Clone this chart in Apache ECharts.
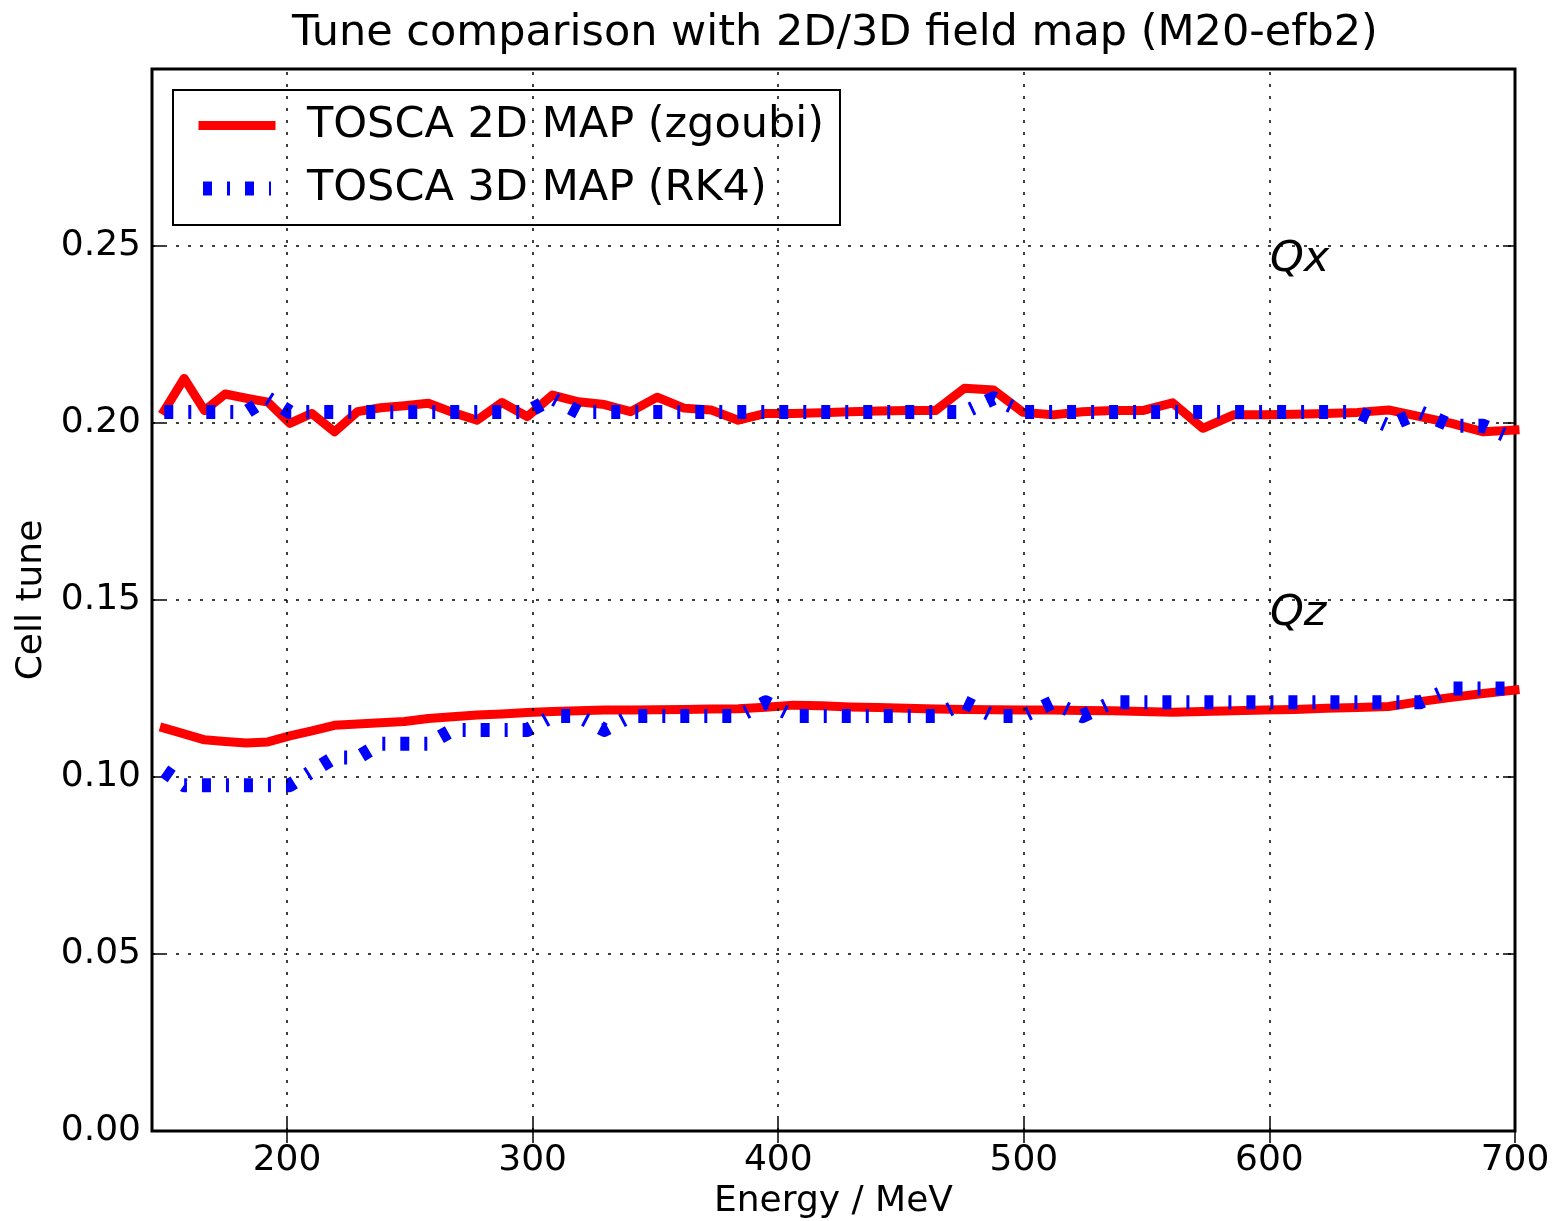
<!DOCTYPE html>
<html lang="en">
<head>
<meta charset="UTF-8">
<title>Tune comparison with 2D/3D field map</title>
<script src="https://cdn.jsdelivr.net/npm/echarts@6/dist/echarts.min.js"></script>
<style>
    html, body { margin: 0; padding: 0; background: #fff; }
    #main { width: 1556px; height: 1221px; }
</style>
</head>
<body>
<div id="main"></div>
<script>
    // kinetic energy of each closed orbit (MeV)
    var energy = [150.0, 158.1, 166.4, 174.8, 183.4, 192.2, 201.1, 210.1, 219.3, 228.7,
        238.1, 247.8, 257.5, 267.4, 277.4, 287.5, 297.8, 308.1, 318.6, 329.2,
        339.9, 350.7, 361.6, 372.6, 383.7, 394.9, 406.2, 417.6, 429.1, 440.7,
        452.3, 464.0, 475.8, 487.7, 499.7, 511.7, 523.8, 536.0, 548.3, 560.6,
        572.9, 585.4, 597.9, 610.5, 623.1, 635.8, 648.5, 661.3, 674.2, 687.1, 700.0];

    // 2D map (zgoubi)
    var qx2d = [0.2035, 0.2126, 0.2035, 0.2082, 0.2070, 0.2059, 0.1999, 0.2027, 0.1975, 0.2032,
        0.2043, 0.2049, 0.2056, 0.2030, 0.2008, 0.2058, 0.2018, 0.2079, 0.2060, 0.2052,
        0.2032, 0.2073, 0.2042, 0.2037, 0.2008, 0.2027, 0.2027, 0.2029, 0.2032, 0.2034,
        0.2035, 0.2035, 0.2098, 0.2093, 0.2030, 0.2023, 0.2032, 0.2035, 0.2035, 0.2057,
        0.1985, 0.2023, 0.2023, 0.2025, 0.2027, 0.2030, 0.2037, 0.2018, 0.1999, 0.1975, 0.1980];
    var qz2d = [0.1138, 0.1122, 0.1105, 0.1100, 0.1096, 0.1099, 0.1116, 0.1130, 0.1146, 0.1150,
        0.1153, 0.1157, 0.1165, 0.1170, 0.1175, 0.1178, 0.1182, 0.1185, 0.1187, 0.1189,
        0.1189, 0.1190, 0.1191, 0.1192, 0.1193, 0.1197, 0.1203, 0.1201, 0.1198, 0.1196,
        0.1194, 0.1192, 0.1191, 0.1190, 0.1189, 0.1189, 0.1188, 0.1187, 0.1185, 0.1183,
        0.1185, 0.1187, 0.1189, 0.1191, 0.1194, 0.1196, 0.1199, 0.1213, 0.1225, 0.1236, 0.1246];

    // 3D map (RK4), tunes come out in steps of 1/256
    var qx3d = [0.2031, 0.2031, 0.2031, 0.2031, 0.2031, 0.2070, 0.2031, 0.2031, 0.2031, 0.2031,
        0.2031, 0.2031, 0.2031, 0.2031, 0.2031, 0.2031, 0.2031, 0.2070, 0.2031, 0.2031,
        0.2031, 0.2031, 0.2031, 0.2031, 0.2031, 0.2031, 0.2031, 0.2031, 0.2031, 0.2031,
        0.2031, 0.2031, 0.2031, 0.2070, 0.2031, 0.2031, 0.2031, 0.2031, 0.2031, 0.2031,
        0.2031, 0.2031, 0.2031, 0.2031, 0.2031, 0.2031, 0.1992, 0.2031, 0.1992, 0.1992, 0.1953];
    var qz3d = [0.1016, 0.0977, 0.0977, 0.0977, 0.0977, 0.0977, 0.0977, 0.1016, 0.1055, 0.1055,
        0.1094, 0.1094, 0.1094, 0.1133, 0.1133, 0.1133, 0.1133, 0.1172, 0.1172, 0.1133,
        0.1172, 0.1172, 0.1172, 0.1172, 0.1172, 0.1211, 0.1172, 0.1172, 0.1172, 0.1172,
        0.1172, 0.1172, 0.1211, 0.1172, 0.1172, 0.1211, 0.1172, 0.1211, 0.1211, 0.1211,
        0.1211, 0.1211, 0.1211, 0.1211, 0.1211, 0.1211, 0.1211, 0.1211, 0.1250, 0.1250, 0.1250];

    var xTicks = [200, 300, 400, 500, 600, 700];
    var xGrid = [200, 300, 400, 500, 600];
    var labels = [
        {name: 'Qx', coord: [600, 0.246]},
        {name: 'Qz', coord: [600, 0.146]}
    ];

    var font = 'DejaVu Sans';
    var dotted = [3, 9];
    var dashDot = [9, 15, 3, 15];

    function pairs(xs, ys) {
        return xs.map(function (x, i) { return [x, ys[i]]; });
    }

    var chart = echarts.init(document.getElementById('main'));

    var red = {
        type: 'line',
        name: 'TOSCA 2D MAP (zgoubi)',
        symbol: 'none',
        z: 2,
        itemStyle: {color: '#ff0000'},
        lineStyle: {color: '#ff0000', width: 9, cap: 'square', join: 'round'}
    };
    var blue = {
        type: 'line',
        name: 'TOSCA 3D MAP (RK4)',
        symbol: 'none',
        z: 3,
        itemStyle: {color: '#0000ff'},
        lineStyle: {color: '#0000ff', width: 14, type: dashDot, cap: 'butt', join: 'round'}
    };

    var option = {
        animation: false,
        title: {
            text: 'Tune comparison with 2D/3D field map (M20-efb2)',
            left: 292,
            top: 12,
            padding: 0,
            textStyle: {fontFamily: font, fontSize: 43, fontWeight: 'normal', color: '#000'}
        },
        grid: {
            left: 152, right: 41, top: 69, bottom: 90,
            outerBoundsMode: 'none',
            show: true, borderColor: '#000', borderWidth: 3
        },
        legend: {
            left: 173, top: 90,
            orient: 'vertical',
            data: [
                {name: 'TOSCA 2D MAP (zgoubi)', lineStyle: {width: 9, color: '#ff0000', type: 'solid'}},
                {name: 'TOSCA 3D MAP (RK4)', lineStyle: {width: 14, color: '#0000ff', type: dashDot}}
            ],
            itemStyle: {color: 'transparent', borderWidth: 0, opacity: 0},
            backgroundColor: '#fff',
            borderColor: '#000', borderWidth: 2, borderRadius: 0,
            padding: [14, 16, 15, 23],
            itemWidth: 68, itemHeight: 16, itemGap: 20,
            textStyle: {fontFamily: font, fontSize: 43, color: '#000', padding: [0, 0, 0, 31]}
        },
        xAxis: [{
            type: 'value', min: 145, max: 700,
            name: 'Energy / MeV', nameLocation: 'middle', nameGap: 51,
            nameTextStyle: {fontFamily: font, fontSize: 36, color: '#000'},
            axisLine: {show: false},
            axisTick: {show: true, inside: true, length: 12, customValues: xTicks,
                lineStyle: {color: '#000', width: 1.5}},
            axisLabel: {customValues: xTicks, fontFamily: font, fontSize: 36, color: '#000', margin: 12},
            splitLine: {show: false}
        }, {
            type: 'value', min: 145, max: 700, position: 'top',
            axisLine: {show: false},
            axisTick: {show: true, inside: true, length: 12, customValues: xTicks,
                lineStyle: {color: '#000', width: 1.5}},
            axisLabel: {show: false},
            splitLine: {show: false}
        }],
        yAxis: [{
            type: 'value', min: 0, max: 0.3, interval: 0.05,
            name: 'Cell tune', nameLocation: 'middle', nameGap: 89,
            nameTextStyle: {fontFamily: font, fontSize: 36, color: '#000'},
            axisLine: {show: false},
            axisTick: {show: true, inside: true, length: 12, lineStyle: {color: '#000', width: 1.5}},
            axisLabel: {
                fontFamily: font, fontSize: 36, color: '#000', margin: 11,
                showMaxLabel: false,
                formatter: function (v) { return v.toFixed(2); }
            },
            splitLine: {show: true, lineStyle: {color: '#000', width: 1.5, type: dotted}}
        }, {
            type: 'value', min: 0, max: 0.3, interval: 0.05, position: 'right',
            axisLine: {show: false},
            axisTick: {show: true, inside: true, length: 12, lineStyle: {color: '#000', width: 1.5}},
            axisLabel: {show: false},
            splitLine: {show: false}
        }],
        series: [
            Object.assign({}, red, {data: pairs(energy, qx2d)}),
            Object.assign({}, red, {data: pairs(energy, qz2d)}),
            Object.assign({}, blue, {data: pairs(energy, qx3d)}),
            Object.assign({}, blue, {
                data: pairs(energy, qz3d),
                markLine: {
                    silent: true,
                    symbol: ['none', 'none'],
                    label: {show: false},
                    lineStyle: {color: '#000', width: 1.5, type: dotted},
                    data: xGrid.map(function (v) { return {xAxis: v}; })
                },
                markPoint: {
                    silent: true,
                    symbol: 'circle', symbolSize: 1,
                    itemStyle: {color: 'transparent'},
                    label: {
                        show: true, position: 'right', distance: 0, formatter: '{b}',
                        fontFamily: font, fontStyle: 'italic', fontSize: 43, color: '#000'
                    },
                    data: labels
                }
            })
        ]
    };
    chart.setOption(option);
</script>
</body>
</html>
